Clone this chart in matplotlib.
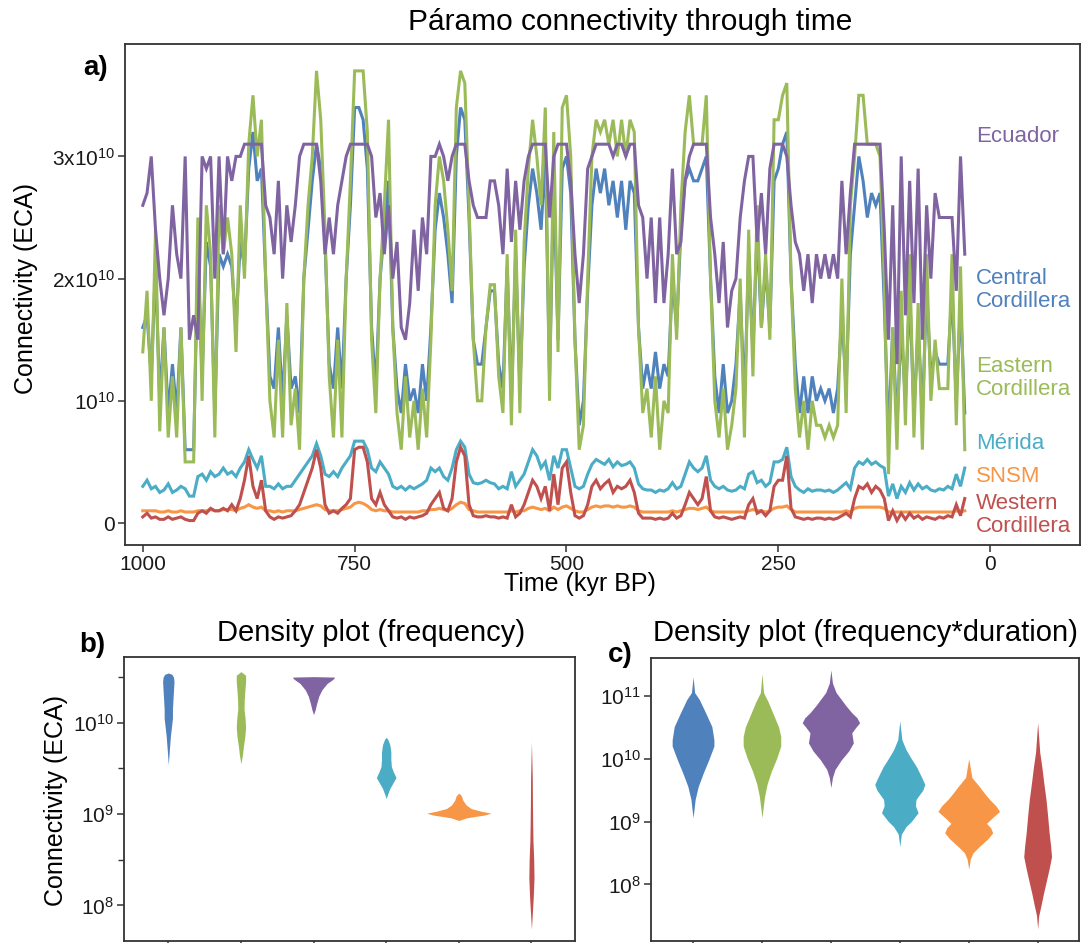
import numpy as np
import matplotlib
matplotlib.use("Agg")
import matplotlib.pyplot as plt
from matplotlib.ticker import NullLocator

plt.rcParams['font.family'] = ['Liberation Sans', 'DejaVu Sans']
plt.rcParams['mathtext.fontset'] = 'custom'
plt.rcParams['mathtext.rm'] = 'Liberation Sans'
plt.rcParams['mathtext.default'] = 'regular'

# ---- panel a: connectivity (ECA, units of 1e10) every 5 kyr, 1000 -> 30 kyr BP
time_kyr = np.arange(1000, 25, -5)

central = [
    1.6, 1.7, 1.2, 2.1, 1.0, 1.6, 0.9, 1.3, 0.9, 1.6,
    0.6, 0.6, 0.6, 2.2, 1.2, 2.3, 2.1, 0.9, 2.2, 2.1,
    2.2, 2.1, 1.6, 2.3, 2.1, 2.9, 3.2, 2.8, 2.9, 2.0,
    1.2, 1.1, 1.6, 1.0, 1.7, 1.1, 1.2, 0.9, 2.0, 2.4,
    2.8, 3.1, 2.9, 2.3, 1.3, 1.1, 1.6, 1.1, 2.0, 2.6,
    3.4, 3.4, 3.3, 2.9, 1.6, 1.1, 2.0, 2.4, 2.8, 1.6,
    1.1, 0.9, 1.3, 1.0, 1.1, 0.9, 1.3, 1.0, 1.6, 2.4,
    2.7, 2.5, 2.2, 1.8, 3.0, 3.4, 3.3, 2.5, 1.5, 1.3,
    1.3, 1.6, 1.9, 1.9, 1.3, 1.1, 2.1, 1.0, 2.2, 1.1,
    2.1, 2.6, 2.9, 2.7, 2.4, 3.0, 1.2, 2.8, 1.5, 2.9,
    3.0, 2.7, 1.5, 0.8, 1.0, 1.9, 2.6, 2.9, 2.7, 2.9,
    2.6, 2.8, 2.5, 2.8, 2.4, 2.8, 2.7, 1.6, 1.1, 1.3,
    1.1, 1.4, 1.1, 1.3, 1.2, 2.0, 1.6, 2.4, 2.8, 2.9,
    2.8, 2.8, 2.9, 3.0, 2.0, 1.2, 0.9, 1.3, 0.9, 1.0,
    1.3, 1.9, 1.0, 2.2, 1.4, 2.4, 1.6, 2.1, 1.6, 2.8,
    2.9, 3.1, 3.2, 2.0, 1.3, 0.9, 1.2, 0.9, 1.2, 1.0,
    1.1, 1.0, 1.1, 0.9, 1.1, 1.7, 1.1, 2.2, 2.6, 3.0,
    2.8, 2.5, 2.7, 2.6, 2.7, 1.8, 0.7, 1.6, 0.8, 1.6,
    1.0, 1.9, 0.9, 1.6, 0.9, 1.9, 1.2, 1.4, 1.3, 1.3,
    1.3, 1.9, 1.0, 1.8, 0.9]

eastern = [
    1.4, 1.9, 1.0, 2.4, 0.75, 1.6, 0.7, 1.2, 0.7, 1.6,
    0.5, 0.5, 0.5, 2.5, 1.0, 2.6, 2.2, 0.7, 2.6, 2.2,
    2.5, 2.2, 1.4, 2.6, 2.0, 3.1, 3.5, 3.0, 3.3, 2.0,
    1.0, 0.7, 1.5, 0.7, 1.8, 0.8, 1.1, 0.6, 2.0, 2.6,
    3.0, 3.7, 3.3, 2.4, 1.2, 0.7, 1.5, 0.7, 2.0, 2.8,
    3.7, 3.7, 3.7, 3.2, 1.5, 0.9, 2.0, 2.6, 3.3, 1.6,
    0.9, 0.6, 1.2, 0.7, 1.0, 0.6, 1.1, 0.7, 1.5, 2.6,
    3.0, 2.8, 2.4, 1.9, 3.4, 3.7, 3.6, 2.6, 1.5, 1.0,
    1.0, 1.6, 1.95, 1.95, 1.2, 0.9, 2.2, 0.8, 2.4, 0.9,
    2.3, 2.9, 3.3, 3.0, 2.6, 3.4, 1.0, 3.2, 1.4, 3.4,
    3.5, 3.0, 1.5, 0.6, 0.8, 2.0, 3.0, 3.3, 3.2, 3.3,
    3.1, 3.3, 3.0, 3.3, 3.0, 3.3, 3.2, 1.6, 0.9, 1.1,
    0.7, 1.2, 0.6, 1.0, 0.9, 2.2, 1.5, 2.6, 3.2, 3.5,
    3.1, 3.1, 3.1, 3.5, 2.0, 1.0, 0.7, 1.1, 0.6, 0.8,
    1.1, 2.0, 0.7, 2.4, 1.2, 2.6, 1.6, 2.2, 1.5, 3.3,
    3.3, 3.5, 3.6, 2.0, 1.1, 0.7, 1.0, 0.6, 1.0, 0.8,
    0.8, 0.7, 0.8, 0.7, 0.8, 2.0, 0.9, 2.6, 3.0, 3.5,
    3.5, 3.1, 3.1, 3.1, 3.0, 2.0, 0.4, 1.6, 0.6, 1.9,
    0.8, 2.2, 0.7, 1.8, 0.6, 2.2, 1.0, 1.5, 1.1, 1.1,
    1.1, 2.2, 0.8, 2.1, 0.6]

ecuador = [
    2.6, 2.7, 3.0, 2.4, 2.0, 1.7, 2.0, 2.6, 2.2, 2.0,
    3.0, 1.5, 1.7, 1.5, 3.0, 2.9, 3.0, 2.0, 3.0, 2.2,
    3.0, 2.8, 3.0, 3.0, 3.1, 3.1, 3.1, 3.1, 3.1, 2.6,
    2.5, 2.2, 2.8, 2.0, 2.6, 2.3, 2.6, 3.0, 3.1, 3.1,
    3.1, 3.1, 2.8, 2.2, 2.5, 2.2, 2.6, 2.8, 3.0, 3.1,
    3.1, 3.1, 3.1, 3.1, 3.0, 2.5, 2.7, 2.2, 2.6, 2.0,
    2.3, 1.6, 1.5, 1.8, 2.4, 1.9, 2.5, 2.2, 3.0, 3.0,
    3.1, 3.0, 2.8, 3.0, 3.1, 3.1, 3.1, 2.8, 2.6, 2.5,
    2.5, 2.5, 2.8, 2.8, 2.6, 2.2, 2.9, 2.3, 2.8, 2.4,
    2.8, 3.0, 3.1, 3.1, 3.1, 3.1, 2.5, 3.0, 3.1, 3.1,
    3.1, 2.8, 2.2, 1.8, 2.2, 2.9, 3.0, 3.1, 3.1, 3.1,
    3.1, 3.0, 3.1, 3.1, 3.0, 3.1, 3.1, 2.6, 2.5, 2.0,
    2.5, 1.8, 2.5, 1.8, 2.2, 2.9, 2.2, 2.3, 2.8, 3.0,
    3.1, 3.1, 3.1, 3.1, 2.5, 2.2, 1.8, 2.3, 1.6, 1.9,
    2.0, 2.5, 2.8, 3.0, 3.0, 2.3, 2.7, 2.2, 2.9, 3.1,
    3.1, 3.1, 3.0, 2.6, 2.3, 2.2, 1.9, 2.2, 1.8, 2.2,
    2.0, 2.2, 2.0, 2.2, 2.0, 2.8, 2.2, 2.7, 3.1, 3.1,
    3.1, 3.1, 3.1, 3.1, 3.1, 2.4, 1.5, 2.6, 1.3, 3.0,
    1.7, 2.8, 1.8, 2.9, 1.5, 2.6, 2.0, 2.7, 2.5, 2.5,
    2.5, 2.5, 1.9, 3.0, 2.2]

merida = [
    0.3, 0.35, 0.28, 0.3, 0.25, 0.27, 0.32, 0.25, 0.27, 0.3,
    0.28, 0.22, 0.22, 0.38, 0.4, 0.35, 0.42, 0.38, 0.4, 0.45,
    0.4, 0.42, 0.38, 0.45, 0.5, 0.6, 0.52, 0.45, 0.55, 0.3,
    0.3, 0.28, 0.32, 0.28, 0.3, 0.3, 0.35, 0.4, 0.45, 0.5,
    0.55, 0.65, 0.55, 0.4, 0.38, 0.42, 0.38, 0.45, 0.5, 0.55,
    0.67, 0.67, 0.67, 0.6, 0.45, 0.42, 0.5, 0.45, 0.4, 0.3,
    0.28, 0.3, 0.27, 0.3, 0.28, 0.3, 0.32, 0.35, 0.45, 0.42,
    0.45, 0.38, 0.35, 0.45, 0.6, 0.67, 0.62, 0.4, 0.33, 0.32,
    0.33, 0.35, 0.33, 0.32, 0.28, 0.3, 0.28, 0.42, 0.3, 0.35,
    0.4, 0.5, 0.6, 0.55, 0.45, 0.5, 0.35, 0.55, 0.45, 0.6,
    0.6, 0.45, 0.3, 0.28, 0.3, 0.4, 0.48, 0.52, 0.5, 0.48,
    0.52, 0.46, 0.5, 0.47, 0.48, 0.5, 0.45, 0.32, 0.28, 0.27,
    0.27, 0.25, 0.27, 0.26, 0.28, 0.33, 0.28, 0.3, 0.4, 0.5,
    0.45, 0.42, 0.45, 0.55, 0.35, 0.3, 0.28, 0.3, 0.27, 0.26,
    0.27, 0.3, 0.28, 0.4, 0.42, 0.33, 0.35, 0.3, 0.33, 0.5,
    0.5, 0.52, 0.62, 0.38, 0.3, 0.27, 0.25, 0.28, 0.26, 0.27,
    0.27, 0.26, 0.27, 0.25, 0.27, 0.3, 0.33, 0.28, 0.45, 0.5,
    0.48, 0.52, 0.48, 0.5, 0.47, 0.45, 0.22, 0.32, 0.2, 0.3,
    0.25, 0.33, 0.27, 0.32, 0.28, 0.3, 0.27, 0.26, 0.28, 0.27,
    0.3, 0.28, 0.4, 0.3, 0.45]

snsm = [
    0.1, 0.1, 0.1, 0.1, 0.09, 0.09, 0.1, 0.09, 0.09, 0.1,
    0.09, 0.09, 0.09, 0.1, 0.1, 0.1, 0.11, 0.1, 0.1, 0.11,
    0.11, 0.11, 0.1, 0.12, 0.13, 0.15, 0.13, 0.12, 0.13, 0.1,
    0.1, 0.09, 0.1, 0.09, 0.1, 0.1, 0.1, 0.11, 0.12, 0.13,
    0.14, 0.15, 0.14, 0.11, 0.1, 0.1, 0.1, 0.11, 0.12, 0.13,
    0.16, 0.17, 0.16, 0.14, 0.11, 0.1, 0.11, 0.1, 0.1, 0.09,
    0.09, 0.09, 0.09, 0.09, 0.09, 0.09, 0.1, 0.1, 0.11, 0.11,
    0.12, 0.11, 0.1, 0.12, 0.15, 0.17, 0.16, 0.11, 0.1, 0.09,
    0.09, 0.09, 0.09, 0.09, 0.09, 0.09, 0.09, 0.1, 0.09, 0.1,
    0.1, 0.12, 0.13, 0.12, 0.11, 0.12, 0.1, 0.13, 0.11, 0.13,
    0.14, 0.12, 0.1, 0.09, 0.09, 0.11, 0.13, 0.14, 0.13, 0.14,
    0.14, 0.13, 0.14, 0.13, 0.13, 0.14, 0.13, 0.1, 0.09, 0.09,
    0.09, 0.09, 0.09, 0.09, 0.09, 0.1, 0.09, 0.1, 0.11, 0.12,
    0.12, 0.11, 0.12, 0.13, 0.1, 0.09, 0.09, 0.09, 0.09, 0.09,
    0.09, 0.09, 0.09, 0.1, 0.11, 0.1, 0.1, 0.09, 0.1, 0.12,
    0.13, 0.13, 0.14, 0.11, 0.09, 0.09, 0.09, 0.09, 0.09, 0.09,
    0.09, 0.09, 0.09, 0.09, 0.09, 0.09, 0.1, 0.09, 0.12, 0.13,
    0.13, 0.13, 0.13, 0.13, 0.13, 0.12, 0.09, 0.09, 0.09, 0.09,
    0.09, 0.09, 0.09, 0.09, 0.09, 0.09, 0.09, 0.09, 0.09, 0.09,
    0.09, 0.09, 0.1, 0.09, 0.1]

western = [
    0.05, 0.08, 0.04, 0.05, 0.03, 0.03, 0.05, 0.03, 0.04, 0.05,
    0.03, 0.02, 0.02, 0.08, 0.1, 0.08, 0.12, 0.1, 0.1, 0.12,
    0.1, 0.15, 0.1, 0.2, 0.35, 0.55, 0.3, 0.2, 0.35, 0.1,
    0.05, 0.03, 0.05, 0.04, 0.05, 0.06, 0.1, 0.15, 0.25, 0.35,
    0.45, 0.6, 0.45, 0.15, 0.08, 0.1, 0.08, 0.12, 0.15, 0.2,
    0.6, 0.62, 0.62, 0.5, 0.2, 0.15, 0.25, 0.15, 0.1, 0.05,
    0.04, 0.05, 0.03, 0.05, 0.04, 0.05, 0.06, 0.08, 0.15, 0.2,
    0.25, 0.12, 0.1, 0.2, 0.5, 0.62, 0.55, 0.15, 0.06, 0.05,
    0.05, 0.06, 0.05, 0.05, 0.04, 0.05, 0.04, 0.15, 0.05, 0.08,
    0.15, 0.25, 0.35, 0.3, 0.2, 0.3, 0.1, 0.4, 0.15, 0.45,
    0.5, 0.25, 0.06, 0.04, 0.06, 0.15, 0.3, 0.35, 0.28, 0.32,
    0.35, 0.25, 0.3, 0.28, 0.3, 0.35, 0.25, 0.08, 0.04, 0.04,
    0.04, 0.03, 0.04, 0.03, 0.04, 0.08, 0.04, 0.06, 0.15, 0.25,
    0.2, 0.15, 0.2, 0.38, 0.1, 0.05, 0.04, 0.05, 0.04, 0.03,
    0.04, 0.05, 0.04, 0.15, 0.2, 0.08, 0.1, 0.06, 0.1, 0.3,
    0.35, 0.35, 0.55, 0.12, 0.05, 0.04, 0.03, 0.04, 0.03, 0.04,
    0.04, 0.03, 0.04, 0.03, 0.04, 0.06, 0.08, 0.05, 0.2, 0.3,
    0.28, 0.32, 0.25, 0.3, 0.27, 0.2, 0.02, 0.1, 0.02, 0.08,
    0.03, 0.08, 0.04, 0.06, 0.03, 0.05, 0.04, 0.03, 0.05, 0.04,
    0.06, 0.05, 0.15, 0.06, 0.2]

regions = ["Central Cordillera", "Eastern Cordillera", "Ecuador", "Mérida", "SNSM", "Western Cordillera"]
colors = ["#4F81BD", "#9BBB59", "#8064A2", "#4BACC6", "#F79646", "#C0504D"]
series = [central, eastern, ecuador, merida, snsm, western]

# ---- panel b: density of ECA values (log10 level, relative half width)
freq_levels = [
    [9.54, 9.7, 9.85, 9.95, 10.05, 10.15, 10.25, 10.35, 10.45, 10.5, 10.53, 10.545],
    [9.55, 9.65, 9.75, 9.85, 9.95, 10.05, 10.15, 10.25, 10.35, 10.45, 10.52, 10.56],
    [10.09, 10.14, 10.21, 10.29, 10.36, 10.43, 10.47, 10.49, 10.5, 10.505],
    [9.17, 9.22, 9.28, 9.34, 9.4, 9.46, 9.52, 9.6, 9.68, 9.76, 9.82, 9.84],
    [8.93, 8.96, 8.99, 9.01, 9.03, 9.06, 9.1, 9.15, 9.2, 9.23],
    [7.74, 7.9, 8.1, 8.3, 8.5, 8.7, 8.9, 9.1, 9.4, 9.79],
]
freq_widths = [
    [0, 1.0, 2.0, 3.0, 4.0, 4.0, 4.5, 5.0, 5.5, 5.0, 3.5, 0],
    [0, 1.5, 2.5, 3.8, 4.5, 4.0, 3.0, 3.2, 3.8, 4.5, 4.5, 0],
    [0, 1.5, 3, 5, 8, 13, 18, 20, 20, 0],
    [0, 1.5, 3.5, 6.5, 9.5, 7, 5, 4.5, 4.5, 3.5, 1.5, 0],
    [0, 8, 25, 31, 22, 12, 7, 4, 2.5, 0],
    [0, 0.8, 1.8, 2.5, 2.2, 1.5, 1.2, 1.0, 0.8, 0],
]

# ---- panel c: density weighted by duration
dur_levels = [
    [9.06, 9.2, 9.35, 9.56, 9.78, 9.98, 10.2, 10.3, 10.51, 10.73, 10.94, 11.05, 11.3],
    [9.06, 9.2, 9.4, 9.6, 9.8, 10.0, 10.2, 10.35, 10.5, 10.7, 10.9, 11.05, 11.35],
    [9.54, 9.7, 9.83, 9.98, 10.12, 10.25, 10.41, 10.5, 10.57, 10.65, 10.73, 10.85, 10.94, 11.05, 11.2, 11.41],
    [8.6, 8.8, 8.92, 9.0, 9.14, 9.25, 9.35, 9.5, 9.59, 9.7, 9.87, 10.0, 10.14, 10.3, 10.6],
    [8.24, 8.4, 8.5, 8.6, 8.72, 8.82, 8.9, 8.97, 9.05, 9.16, 9.25, 9.35, 9.45, 9.56, 9.7, 10.0],
    [7.29, 7.5, 7.65, 7.85, 8.03, 8.25, 8.44, 8.6, 8.82, 9.1, 9.35, 9.6, 9.87, 10.1, 10.57],
]
dur_widths = [
    [0, 1, 2, 5, 10, 15, 20, 20, 18, 12, 6, 1.5, 0],
    [0, 1, 2.5, 5, 9, 14, 18, 18, 16, 11, 6, 1.5, 0],
    [0, 1.5, 4, 10, 17, 21.5, 20, 24, 27.5, 25, 20, 14, 10, 5, 1.5, 0],
    [0, 1.5, 6, 11, 17.5, 15, 15.5, 22, 24, 21, 16, 11, 6, 2, 0],
    [0, 1.5, 4, 10, 18, 23, 21, 17, 22, 29.5, 26, 20, 15, 10, 3, 0],
    [0, 1, 3, 5.5, 8, 11, 13.3, 12.5, 11, 9.5, 8, 6, 4, 2, 0],
]

W, H = 1084, 943
fig = plt.figure(figsize=(W / 100, H / 100), dpi=100)

def box(l, r, t, b):
    return [l / W, 1 - b / H, (r - l) / W, (b - t) / H]

def style(ax):
    for s in ax.spines.values():
        s.set_color('#333333')
        s.set_linewidth(1.3)
    ax.tick_params(colors='#333333', labelcolor='#1a1a1a', labelsize=15,
                   length=5, width=1.1, pad=2)

# panel a
ax = fig.add_axes(box(125, 1080, 44, 545))
for vals, c in zip(series, colors):
    ax.plot(time_kyr, vals, color=c, lw=2.2, solid_joinstyle='miter')
ax.set_xlim(1021, -106)
ax.set_ylim(-0.18, 3.92)
ax.set_xticks([1000, 750, 500, 250, 0])
ax.set_yticks([0, 1, 2, 3], labels=['0', r'10$^{10}$', r'2x10$^{10}$', r'3x10$^{10}$'])
style(ax)
label_txt = ["Central\nCordillera", "Eastern\nCordillera", "Ecuador", "Mérida", "SNSM", "Western\nCordillera"]
for txt, c, yy in zip(label_txt, colors, [290, 378, 137, 444, 477, 515]):
    fig.text(976 / W, 1 - yy / H, txt, color=c, fontsize=16, ha='left', va='center', linespacing=1.15)

fig.text(630 / W, 1 - 22 / H, "Páramo connectivity through time", fontsize=21.5, ha='center', va='center')
fig.text(83 / W, 1 - 68 / H, "a)", fontsize=20, fontweight='bold', ha='left', va='center')
fig.text(26 / W, 1 - 288 / H, "Connectivity (ECA)", fontsize=18, rotation=90, ha='center', va='center')
fig.text(580 / W, 1 - 584 / H, "Time (kyr BP)", fontsize=18, ha='center', va='center')

# panels b and c
def violins(ax, levels, widths, scale):
    for i, (lv, wd, c) in enumerate(zip(levels, widths, colors)):
        y = 10 ** np.array(lv)
        w = np.array(wd) / scale
        ax.fill_betweenx(y, i + 1 - w, i + 1 + w, color=c, lw=0)
    ax.set_yscale('log')
    ax.set_xticks(range(1, 7), labels=[''] * 6)
    ax.set_xlim(0.39, 6.6)
    style(ax)

axb = fig.add_axes(box(124, 575, 657, 941))
violins(axb, freq_levels, freq_widths, 70)
axb.set_ylim(10 ** 7.61, 10 ** 10.72)
axb.set_yticks([1e8, 1e9, 1e10], labels=[r'10$^{8}$', r'10$^{9}$', r'10$^{10}$'])
axb.set_yticks([10 ** 8.5, 10 ** 9.5, 10 ** 10.5], labels=['', '', ''], minor=True)
axb.tick_params(which='minor', length=4, width=1.0, colors='#333333')

axc = fig.add_axes(box(651, 1079, 658, 941))
violins(axc, dur_levels, dur_widths, 66)
axc.set_ylim(10 ** 7.1, 10 ** 11.6)
axc.set_yticks([1e8, 1e9, 1e10, 1e11], labels=[r'10$^{8}$', r'10$^{9}$', r'10$^{10}$', r'10$^{11}$'])
axc.yaxis.set_minor_locator(NullLocator())

fig.text(371 / W, 1 - 633 / H, "Density plot (frequency)", fontsize=21, ha='center', va='center')
fig.text(865 / W, 1 - 633 / H, "Density plot (frequency*duration)", fontsize=21, ha='center', va='center')
fig.text(79 / W, 1 - 645 / H, "b)", fontsize=20, fontweight='bold', ha='left', va='center')
fig.text(608 / W, 1 - 655 / H, "c)", fontsize=20, fontweight='bold', ha='left', va='center')
fig.text(56 / W, 1 - 801 / H, "Connectivity (ECA)", fontsize=18, rotation=90, ha='center', va='center')

fig.savefig("out.png", dpi=100)
